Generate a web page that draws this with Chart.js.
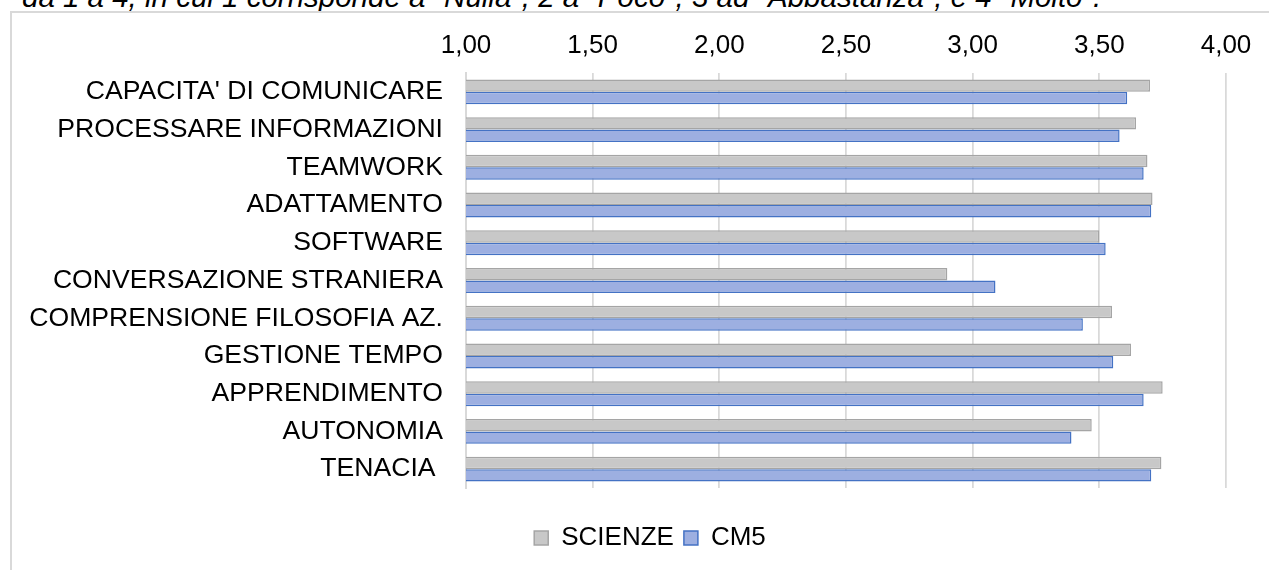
<!DOCTYPE html>
<html>
<head>
<meta charset="utf-8">
<script src="https://cdn.jsdelivr.net/npm/chart.js@4.4.1/dist/chart.umd.min.js"></script>
<style>
  html, body { margin: 0; padding: 0; background: #fff; }
  body { width: 1269px; height: 570px; position: relative; overflow: hidden; font-family: "Liberation Sans", Arial, sans-serif; }
  .note { position: absolute; left: 22px; top: -18px; font-size: 29.5px; line-height: 29px; font-style: italic; color: #000; white-space: nowrap; }
  .frame { position: absolute; left: 10px; top: 11px; width: 1300px; height: 600px; border-top: 2px solid #d9d9d9; border-left: 2px solid #d9d9d9; }
  #wrap { position: absolute; left: 0; top: 0; width: 1269px; height: 570px; }
</style>
</head>
<body>
<div class="note">da 1 a 4, in cui 1 corrisponde a "Nulla", 2 a "Poco", 3 ad "Abbastanza", e 4 "Molto".</div>
<div class="frame"></div>
<div id="wrap"><canvas id="skillsChart"></canvas></div>
<script>
// competenze, dall'alto verso il basso
const categories = [
  "CAPACITA' DI COMUNICARE",
  'PROCESSARE INFORMAZIONI',
  'TEAMWORK',
  'ADATTAMENTO',
  'SOFTWARE',
  'CONVERSAZIONE STRANIERA',
  'COMPRENSIONE FILOSOFIA AZ.',
  'GESTIONE TEMPO',
  'APPRENDIMENTO',
  'AUTONOMIA',
  'TENACIA '
];
const scienze = [3.70, 3.645, 3.69, 3.71, 3.50, 2.90, 3.55, 3.625, 3.75, 3.47, 3.745];
const cm5 = [3.61, 3.58, 3.675, 3.705, 3.525, 3.09, 3.435, 3.555, 3.675, 3.39, 3.705];
const seriesNames = ['SCIENZE', 'CM5'];
const axisMin = 1;
const axisMax = 4;
const axisStep = 0.5;

const family = '"Liberation Sans", Arial, sans-serif';
const font = { family: family, size: 26 };
const labelFont = { family: family, size: 26.6 };

new Chart(document.getElementById('skillsChart'), {
  type: 'bar',
  data: {
    labels: categories,
    datasets: [
      {
        label: seriesNames[0],
        data: scienze,
        backgroundColor: '#c8c8c8',
        borderColor: '#a5a5a5',
        borderWidth: 1.5,
        categoryPercentage: 0.66,
        barPercentage: 1
      },
      {
        label: seriesNames[1],
        data: cm5,
        backgroundColor: '#9dafe1',
        borderColor: '#4472c4',
        borderWidth: 1.5,
        categoryPercentage: 0.66,
        barPercentage: 1
      }
    ]
  },
  options: {
    indexAxis: 'y',
    responsive: true,
    maintainAspectRatio: false,
    animation: false,
    layout: { padding: { left: 74, right: 43, top: 0, bottom: 9 } },
    scales: {
      x: {
        position: 'top',
        min: axisMin,
        max: axisMax,
        ticks: {
          stepSize: axisStep,
          padding: 12,
          color: '#000',
          font: font,
          callback: (v) => v.toFixed(2).replace('.', ',')
        },
        grid: { color: '#d9d9d9', lineWidth: 1.75, drawTicks: false },
        border: { display: false },
        afterFit: (scale) => { scale.height = 73; }
      },
      y: {
        ticks: { padding: 23, color: '#000', font: labelFont },
        grid: { display: false, drawTicks: false },
        border: { display: true, color: '#d9d9d9', width: 2 },
        afterFit: (scale) => {
          scale.width = 392;
          // long labels run into the left padding; don't clip them to the axis box
          scale._computeLabelArea = () => undefined;
        }
      }
    },
    plugins: {
      tooltip: { enabled: false },
      legend: {
        position: 'bottom',
        title: { display: true, text: '', font: { size: 1, lineHeight: 1 }, padding: { top: 26, bottom: 0 } },
        labels: {
          color: '#000',
          font: font,
          boxWidth: 14,
          boxHeight: 14,
          padding: 10
        }
      }
    }
  }
});
</script>
</body>
</html>
